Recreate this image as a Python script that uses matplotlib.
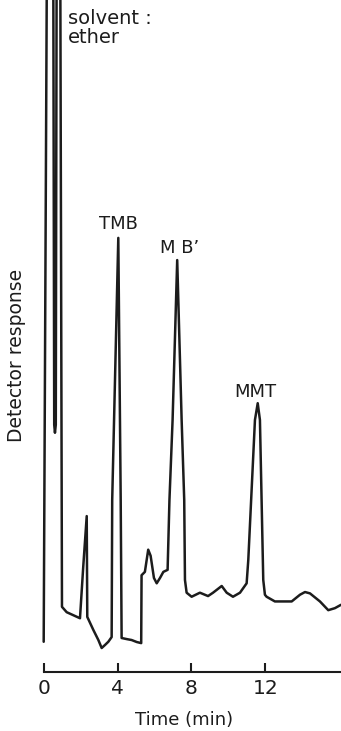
import matplotlib
matplotlib.use("Agg")
import matplotlib.pyplot as plt

# Chromatogram trace: retention time (min) vs detector response (% of full scale)
time_min = [0.00, 0.17, 0.52, 0.57, 0.61, 0.655, 0.70, 0.90, 0.99, 1.245, 1.965,
            2.14, 2.33, 2.36, 2.69, 2.96, 3.14, 3.32, 3.50, 3.68,
            3.71, 4.04, 4.17, 4.22, 4.49, 4.76, 5.04, 5.28,
            5.30, 5.48, 5.66, 5.79, 5.97, 6.12, 6.30, 6.48, 6.71,
            6.81, 6.98, 7.23, 7.47, 7.61, 7.65, 7.74, 8.01, 8.46, 8.90, 9.17,
            9.64, 9.91, 10.25, 10.63, 10.99,
            11.08, 11.44, 11.59, 11.71, 11.89, 11.98, 12.07, 12.52, 13.43,
            13.88, 14.15, 14.42, 14.96, 15.41, 15.77, 16.10]
response = [4.5, 104, 104, 36.8, 35.6, 36.8, 104, 104, 9.7, 8.9, 8.0,
            15.6, 23.2, 8.2, 6.25, 4.76, 3.57, 4.02, 4.5, 5.2,
            25.6, 64.6, 25.6, 5.06, 4.9, 4.76, 4.46, 4.3,
            14.4, 14.9, 18.2, 17.3, 14.0, 13.2, 14.0, 14.9, 15.2,
            25.6, 37.5, 61.3, 37.5, 25.6, 13.7, 11.8, 11.2, 11.8, 11.3, 11.8,
            12.8, 11.8, 11.2, 11.8, 13.2,
            16.7, 37.5, 40.0, 37.5, 13.7, 11.5, 11.2, 10.5, 10.5,
            11.5, 11.9, 11.7, 10.5, 9.2, 9.5, 10.0]

# Peak labels: (text, time, response at label baseline)
peak_names = ["TMB", "M B\u2019", "MMT"]
peak_label_t = [4.04, 7.38, 11.45]
peak_label_r = [65.9, 62.4, 40.9]

x_ticks = [0, 4, 8, 12]
x_tick_labels = ["0", "4", "8", "12"]

ink = "#1c1c1c"
plt.rcParams["font.family"] = ["DejaVu Sans"]

fig = plt.figure(figsize=(3.41, 7.31), dpi=100, facecolor="white")
ax = fig.add_axes([40 / 341, 59 / 731, 301 / 341, 672 / 731])

ax.plot(time_min, response, color=ink, lw=1.8, solid_joinstyle="round",
        solid_capstyle="round")

ax.set_xlim(-0.2, 16.1)
ax.set_ylim(0, 100)

for side in ["left", "right", "top"]:
    ax.spines[side].set_visible(False)
ax.spines["bottom"].set_bounds(0, 16.1)
ax.spines["bottom"].set_linewidth(1.5)
ax.spines["bottom"].set_color(ink)

ax.set_yticks([])
ax.set_xticks(x_ticks)
ax.set_xticklabels(x_tick_labels)
ax.tick_params(axis="x", direction="in", length=6.5, width=1.5, color=ink,
               labelsize=14.5, labelcolor=ink, pad=5)

ax.set_xlabel("Time (min)", fontsize=13, color=ink, labelpad=8)
ax.xaxis.set_label_coords(0.48, -0.058)

fig.text(17 / 341, 1 - 355 / 731, "Detector response", rotation=90,
         ha="center", va="center", fontsize=13.5, color=ink)

ax.text(1.30, 98.6, "solvent :\nether", ha="left", va="top", fontsize=14,
        color=ink, linespacing=1.0)

for name, t, r in zip(peak_names, peak_label_t, peak_label_r):
    ax.text(t, r, name, ha="center", va="baseline", fontsize=13, color=ink)

fig.savefig("out.png", dpi=100, facecolor="white")
